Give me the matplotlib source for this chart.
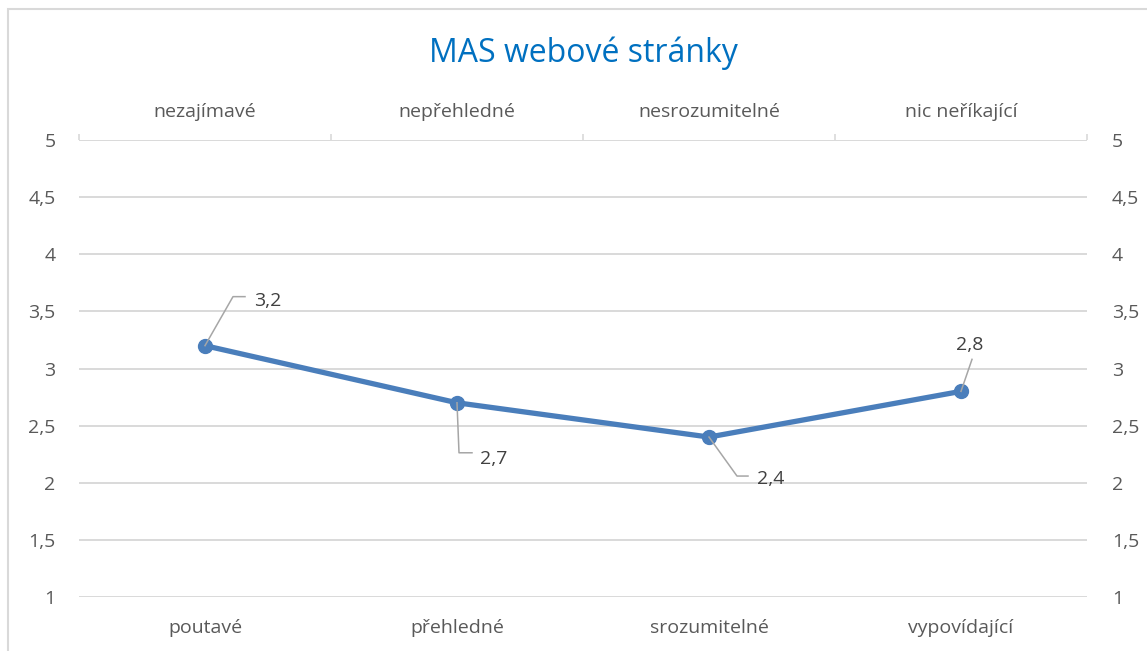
import matplotlib
matplotlib.use('Agg')
import matplotlib.pyplot as plt
from matplotlib.patches import Rectangle
from matplotlib.lines import Line2D
from matplotlib.transforms import IdentityTransform
from matplotlib.ticker import MultipleLocator, FixedLocator

# data
bottom_labels = ['poutavé', 'přehledné', 'srozumitelné', 'vypovídající']
top_labels = ['nezajímavé', 'nepřehledné', 'nesrozumitelné', 'nic neříkající']
values = [3.2, 2.7, 2.4, 2.8]
value_text = ['3,2', '2,7', '2,4', '2,8']
y_ticks = [1, 1.5, 2, 2.5, 3, 3.5, 4, 4.5, 5]

plt.rcParams['font.family'] = ['Open Sans', 'DejaVu Sans']
TXT = '#595959'
GRID = '#D9D9D9'
LINE = '#4A7EBB'
FS = 14

W, H = 1147, 651
fig = plt.figure(figsize=(W / 100, H / 100), dpi=100)
ax = fig.add_axes([79 / W, 1 - 597 / H, (1087 - 79) / W, (597 - 140) / H])

x = list(range(len(values)))
ax.plot(x, values, color=LINE, lw=3.8, marker='o', ms=10, zorder=3,
        solid_capstyle='round')
ax.set_xlim(-0.5, len(values) - 0.5)
ax.set_ylim(1, 5)

fmt = lambda v: ('%g' % v).replace('.', ',')
ax.yaxis.set_major_locator(FixedLocator(y_ticks))
ax.set_yticklabels([fmt(v) for v in y_ticks])
ax.grid(axis='y', color=GRID, lw=1.4)
ax.set_axisbelow(True)
for s in ax.spines.values():
    s.set_visible(False)
ax.set_xticks(x)
ax.set_xticklabels(bottom_labels)
ax.tick_params(axis='x', length=0, pad=16, labelsize=FS, labelcolor=TXT)
ax.tick_params(axis='y', length=0, pad=17, labelsize=FS, labelcolor=TXT)

# right axis copy
ay = ax.twinx()
ay.set_ylim(ax.get_ylim())
ay.yaxis.set_major_locator(FixedLocator(y_ticks))
ay.set_yticklabels([fmt(v) for v in y_ticks])
ay.tick_params(axis='y', length=0, pad=18, labelsize=FS, labelcolor=TXT)
for s in ay.spines.values():
    s.set_visible(False)

# top axis with opposite adjectives
at = ax.twiny()
at.set_xlim(ax.get_xlim())
at.set_xticks(x)
at.set_xticklabels(top_labels)
at.xaxis.set_minor_locator(MultipleLocator(1, offset=0.5))
at.tick_params(axis='x', which='major', length=0, pad=14, labelsize=FS, labelcolor=TXT)
at.tick_params(axis='x', which='minor', length=4.5, width=1.2, color=GRID)
for s in at.spines.values():
    s.set_visible(False)

# data labels: text anchor (left/center, baseline) and leader vertices, in pixel offsets
text_off = [(49, 40), (23, -61), (48, -47), (9, 41)]
text_ha = ['left', 'left', 'left', 'center']
leaders = [[(28, 49), (40, 49)],
           [(2, -50), (15, -50)],
           [(28, -39), (39, -39)],
           [(11, 32)]]
for i, v in enumerate(values):
    ax.annotate(value_text[i], (i, v), xytext=text_off[i], textcoords='offset pixels',
                ha=text_ha[i], va='baseline', fontsize=FS, color='#404040')
    px, py = ax.transData.transform((i, v))
    xs = [px] + [px + dx for dx, dy in leaders[i]]
    ys = [py] + [py + dy for dx, dy in leaders[i]]
    fig.add_artist(Line2D(xs, ys, transform=IdentityTransform(), color='#A6A6A6',
                          lw=1.1, zorder=2))

fig.text(583 / W, 1 - 53 / H, 'MAS webové stránky', ha='center', va='center',
         fontsize=23, color='#0070C0')

# chart border
fig.add_artist(Rectangle((8 / W, -0.1), 1.2, 1 - 9 / H + 0.1, transform=fig.transFigure,
                         fill=False, edgecolor='#D9D9D9', lw=1.5))

fig.savefig('out.png', dpi=100)
